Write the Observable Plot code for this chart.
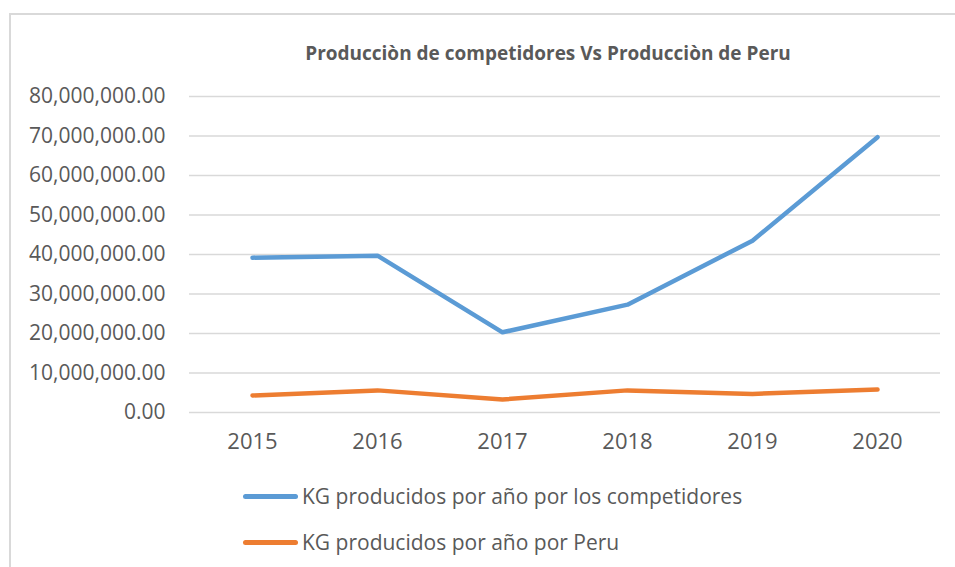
<!DOCTYPE html>
<html>
<head>
<meta charset="utf-8">
<script src="https://cdn.jsdelivr.net/npm/d3@7"></script>
<script src="https://cdn.jsdelivr.net/npm/@observablehq/plot@0.6"></script>
<style>
  html, body { margin: 0; padding: 0; background: #fff; overflow: hidden; }
  #wrap { position: relative; width: 955px; height: 567px; font-family: "Open Sans", sans-serif; color: #595959; }
  #frame { position: absolute; left: 9px; top: 13px; width: 1000px; height: 1000px; border: 2px solid #d9d9d9; box-sizing: border-box; }
  #title { position: absolute; left: 0; width: 1096px; top: 41px; text-align: center; font-weight: bold; font-size: 19px; line-height: 24px; }
  #chart { position: absolute; left: 0; top: 0; }
  .leg { position: absolute; left: 243px; height: 24px; display: flex; align-items: center; font-size: 21px; white-space: nowrap; }
  .leg .sw { width: 55px; height: 5px; border-radius: 3px; margin-right: 4px; }
</style>
</head>
<body>
<div id="wrap">
  <div id="frame"></div>
  <div id="title"></div>
  <div id="chart"></div>
  <div id="legend"></div>
</div>
<script>
const title = "Producciòn de competidores Vs Producciòn de Peru";
const years = ["2015", "2016", "2017", "2018", "2019", "2020"];
const seriesNames = ["KG producidos por año por los competidores", "KG producidos por año por Peru"];
const competidores = [39200000, 39700000, 20300000, 27300000, 43500000, 69700000];
const peru = [4300000, 5600000, 3300000, 5600000, 4700000, 5800000];
const yTicks = [0, 10000000, 20000000, 30000000, 40000000, 50000000, 60000000, 70000000, 80000000];
const colors = ["#5b9bd5", "#ed7d31"];

const rows = [];
years.forEach((yr, i) => {
  rows.push({year: yr, value: competidores[i], series: seriesNames[0]});
  rows.push({year: yr, value: peru[i], series: seriesNames[1]});
});

document.getElementById("title").textContent = title;

const fmt = d3.format(",.2f");
const chart = Plot.plot({
  width: 955,
  height: 470,
  marginLeft: 189,
  marginRight: 15,
  marginTop: 96,
  marginBottom: 58,
  style: {fontFamily: "Open Sans, sans-serif", fontSize: "21px", color: "#595959", background: "transparent"},
  x: {type: "point", domain: years, padding: 0.5, label: null},
  y: {domain: [0, 80000000], label: null},
  color: {domain: seriesNames, range: colors},
  marks: [
    Plot.ruleY(yTicks, {stroke: "#d9d9d9", strokeWidth: 1.5}),
    Plot.axisY({ticks: yTicks, tickFormat: fmt, tickSize: 0, tickPadding: 24, label: null, fontSize: 21}),
    Plot.axisX({tickSize: 0, tickPadding: 21, label: null, fontSize: 22}),
    Plot.line(rows, {x: "year", y: "value", z: "series", stroke: "series", strokeWidth: 4.5, strokeLinecap: "round", strokeLinejoin: "round"})
  ]
});
document.getElementById("chart").appendChild(chart);

const legend = document.getElementById("legend");
const legTops = [484, 530];
seriesNames.forEach((name, i) => {
  const d = document.createElement("div");
  d.className = "leg";
  d.style.top = legTops[i] + "px";
  const sw = document.createElement("div");
  sw.className = "sw";
  sw.style.background = colors[i];
  const t = document.createElement("span");
  t.textContent = name;
  d.appendChild(sw);
  d.appendChild(t);
  legend.appendChild(d);
});
</script>
</body>
</html>
